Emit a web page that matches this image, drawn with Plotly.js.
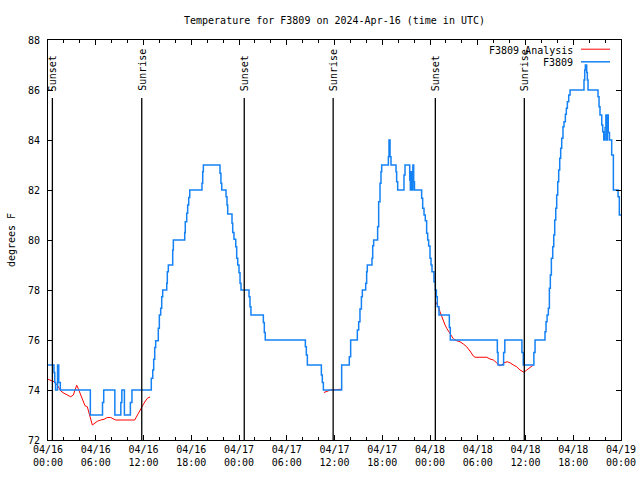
<!DOCTYPE html>
<html>
<head>
<meta charset="utf-8">
<script src="https://cdn.plot.ly/plotly-3.0.1.min.js"></script>
<style>html,body{margin:0;padding:0;background:#fff;}#chart{width:640px;height:480px;}</style>
</head>
<body>
<div id="chart"></div>
<script>
// ---- data (hours after 2024-04-16 00:00 UTC) ----
var seriesNames = ['F3809 Analysis', 'F3809'];
var startDate = '2024-04-16T00:00:00Z';

// F3809 observations: time at which each new reading starts (stepped)
var obsHours = [0,0.75,0.85,0.95,1.2,1.35,1.55,5.32,6.85,7.0,8.4,9.15,9.28,9.6,10.35,10.55,
 12.98,13.16,13.28,13.41,13.53,13.86,13.99,14.16,14.29,14.41,14.92,14.99,15.12,15.67,15.75,
 17.18,17.25,17.43,17.55,17.68,17.81,19.35,19.44,19.52,21.61,21.73,21.83,22.37,22.49,22.58,
 23.12,23.21,23.37,23.59,23.71,23.84,24.0,24.13,24.25,25.26,25.38,25.5,27.06,27.18,27.3,
 32.34,32.46,32.59,34.35,34.47,34.6,36.9,37.86,38.03,38.87,39.04,39.2,39.38,39.5,39.92,40.04,40.12,
 40.71,40.8,40.92,41.42,41.55,41.72,41.84,41.93,42.77,42.85,42.98,43.1,43.73,43.81,43.94,
 44.73,44.86,45.45,45.53,45.6,45.75,45.85,45.95,46.05,46.95,47.08,47.25,47.41,47.58,47.71,47.83,
 48.0,48.13,48.25,48.5,48.67,48.8,48.92,49.13,50.43,50.55,56.46,56.55,57.25,57.4,59.55,59.72,
 61.05,61.2,62.45,62.58,62.71,62.87,63.0,63.12,63.25,63.42,63.55,63.67,63.8,63.92,64.05,64.17,
 64.3,64.42,64.55,64.71,64.84,65.01,65.13,65.26,65.43,65.6,67.35,67.44,67.52,67.69,67.77,67.86,
 69.11,69.24,69.36,69.58,69.7,69.83,70.0,70.1,70.2,70.3,70.4,70.55,70.83,71.04,71.63,71.79,72.0];
var obsTemps = [75,74.7,74.3,74.0,75.0,74.3,74.0,73.0,73.5,74.0,73.0,73.5,74.0,73.0,73.5,74.0,
 74.47,74.8,75.23,75.7,75.97,76.47,77.0,77.27,77.73,78.0,78.27,78.73,79.0,79.6,80.0,
 80.3,80.73,81.07,81.4,81.7,82.0,82.27,82.73,83.0,82.67,82.27,82.0,81.73,81.4,81.04,
 80.67,80.3,80.03,79.73,79.27,79.0,78.69,78.27,78.0,77.73,77.33,77.0,76.7,76.3,76.0,
 75.73,75.4,75.0,74.6,74.3,74.0,75.0,75.33,76.0,76.4,76.73,77.24,77.73,78.0,78.27,78.73,79.0,
 79.27,79.77,80.0,80.53,81.53,82.27,82.73,83.0,83.33,84.0,83.33,83.0,82.73,82.33,82.0,
 82.6,83.0,82.4,82.0,82.73,82.0,83.0,82.33,82.0,81.67,81.27,81.0,80.77,80.27,80.0,79.76,
 79.27,79.0,78.73,78.33,78.0,77.73,77.33,77.0,76.5,76.0,75.5,75.0,75.5,76.0,75.5,75.0,
 75.5,76.0,76.33,76.73,77.0,77.27,78.07,78.6,79.27,79.73,80.2,80.8,81.27,81.8,82.33,82.8,
 83.27,83.67,84.07,84.53,84.73,85.03,85.27,85.53,85.8,86.0,86.4,86.8,87.0,86.7,86.4,86.0,
 85.73,85.33,85.0,84.6,84.33,84.0,84.5,85.0,84.0,85.0,84.3,84.0,83.4,82.0,81.73,81.0,81.0];

// F3809 Analysis (null = gap)
var anaHours = [0,0.75,1.17,1.6,2.01,2.51,2.85,3.18,3.48,3.61,3.81,4.11,4.44,4.65,4.94,5.24,5.57,5.78,
 6.2,6.62,7.04,7.45,7.88,8.29,8.51,10.89,11.22,11.65,12.06,12.48,12.82,
 20,
 34.67,35.0,35.5,36.85,
 42,
 48.72,49.05,49.26,49.47,49.67,49.89,50.1,50.43,50.73,50.93,51.36,51.77,52.19,52.61,53.03,53.44,53.66,
 55.13,55.54,55.96,56.38,56.71,57.01,57.3,57.71,58.05,58.47,58.89,59.31,59.81,60.15,60.57,60.98];
var anaTemps = [74.43,74.33,74.2,73.96,73.87,73.77,73.73,73.8,74.1,74.19,74.05,73.8,73.53,73.37,73.33,72.93,72.6,72.65,
 72.75,72.8,72.83,72.9,72.9,72.83,72.8,72.8,73.0,73.24,73.47,73.67,73.72,
 null,
 73.9,73.95,74.0,74.03,
 null,
 77.53,77.33,77.13,76.93,76.73,76.6,76.47,76.29,76.1,76.05,75.97,75.93,75.84,75.73,75.56,75.36,75.31,
 75.31,75.24,75.2,75.09,74.97,74.99,75.09,75.13,75.09,75.0,74.93,74.8,74.71,74.8,74.91,75.0];

// Sunrise / sunset events
var sunHours = [0.55, 11.78, 24.66, 35.83, 48.67, 59.85];
var sunLabels = ['Sunset', 'Sunrise', 'Sunset', 'Sunrise', 'Sunset', 'Sunrise'];

var yTicks = [72, 74, 76, 78, 80, 82, 84, 86, 88];

// ---- helpers ----
var t0 = Date.parse(startDate);
function toDate(h) {
  return new Date(t0 + h * 3600000).toISOString().replace('T', ' ').slice(0, 19);
}

var FONT = 'DejaVu Sans Mono, Liberation Mono, monospace';
var blue = 'rgb(20,130,245)';

var traces = [
  {
    x: anaHours.map(toDate), y: anaTemps, name: seriesNames[0],
    type: 'scatter', mode: 'lines', connectgaps: false,
    line: {color: '#ff0000', width: 1}
  },
  {
    x: obsHours.map(toDate), y: obsTemps, name: seriesNames[1],
    type: 'scatter', mode: 'lines',
    line: {color: blue, width: 1.5, shape: 'hv'}
  }
];

var shapes = [];
var annotations = [];
sunHours.forEach(function (h, i) {
  shapes.push({type: 'line', xref: 'x', yref: 'y', x0: toDate(h), x1: toDate(h), y0: 72, y1: 85.68,
    line: {color: '#000', width: 1.3}});
  annotations.push({xref: 'x', yref: 'y', x: toDate(h), y: 85.88, text: sunLabels[i], showarrow: false,
    textangle: -90, xanchor: 'center', yanchor: 'bottom', font: {family: FONT, size: 10, color: '#000'}});
});

// custom legend (text right-aligned, sample on the right, gnuplot style)
var legendColors = ['#ff0000', blue];
var legendWidths = [1, 1.5];
var legendY = [0.975, 0.9435];
seriesNames.forEach(function (n, i) {
  annotations.push({xref: 'paper', yref: 'paper', x: 0.9197, y: legendY[i], text: n, showarrow: false,
    xanchor: 'right', yanchor: 'middle', font: {family: FONT, size: 10, color: '#000'}});
  shapes.push({type: 'line', xref: 'paper', yref: 'paper', x0: 0.9302, x1: 0.9808, y0: legendY[i] + 0.002, y1: legendY[i] + 0.002,
    line: {color: legendColors[i], width: legendWidths[i]}});
});

var layout = {
  width: 640, height: 480,
  margin: {l: 48, r: 19, t: 40, b: 40, pad: 0},
  paper_bgcolor: '#fff', plot_bgcolor: '#fff',
  showlegend: false,
  font: {family: FONT, size: 10, color: '#000'},
  title: {text: 'Temperature for F3809 on 2024-Apr-16 (time in UTC)', x: 0.5, xref: 'paper',
    y: 1 - 20 / 480, yref: 'container', yanchor: 'middle', font: {family: FONT, size: 10, color: '#000'}},
  xaxis: {
    type: 'date', range: [toDate(0), toDate(72)],
    tick0: toDate(0), dtick: 6 * 3600000, tickformat: '%m/%d<br>%H:%M',
    ticks: 'inside', ticklen: 5, tickwidth: 1, tickcolor: '#000',
    minor: {dtick: 2 * 3600000, ticks: 'inside', ticklen: 3, tickwidth: 1, tickcolor: '#000'},
    showline: true, linecolor: '#000', linewidth: 1, mirror: 'allticks',
    showgrid: false, zeroline: false, fixedrange: true,
    tickfont: {family: FONT, size: 10, color: '#000'}
  },
  yaxis: {
    range: [72, 88], tickvals: yTicks, ticktext: yTicks.map(String),
    ticks: 'inside', ticklen: 5, tickwidth: 1, tickcolor: '#000',
    showline: true, linecolor: '#000', linewidth: 1, mirror: 'allticks',
    showgrid: false, zeroline: false, fixedrange: true,
    ticklabelstandoff: 5,
    tickfont: {family: FONT, size: 10, color: '#000'},
    title: {text: 'degrees F', standoff: 10, font: {family: FONT, size: 10, color: '#000'}}
  },
  shapes: shapes,
  annotations: annotations
};

Plotly.newPlot('chart', traces, layout, {staticPlot: true, displayModeBar: false});
</script>
</body>
</html>
